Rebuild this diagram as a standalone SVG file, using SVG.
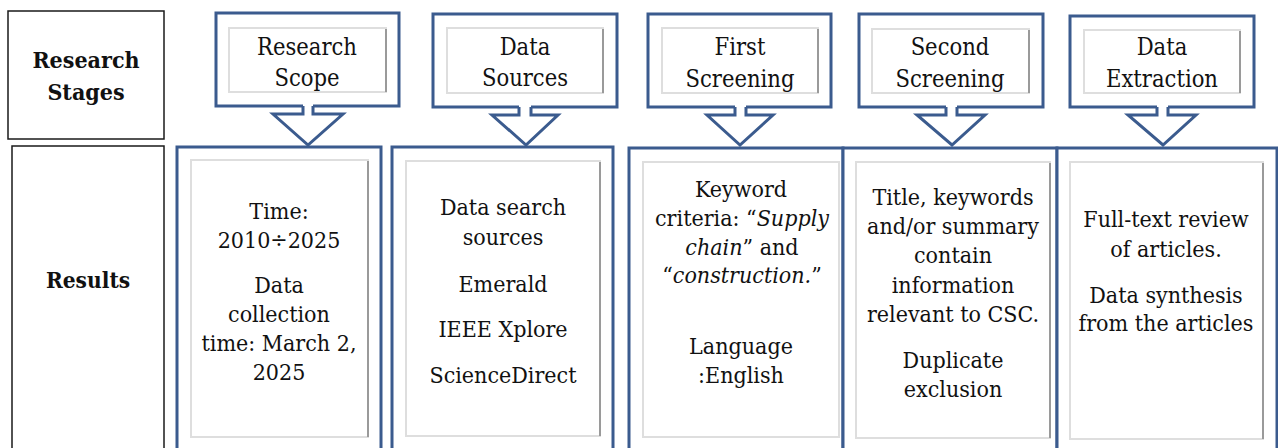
<svg xmlns="http://www.w3.org/2000/svg" width="1278" height="448" viewBox="0 0 1278 448">
<style>
.bg{fill:#fff}
.lbl{fill:#fff;stroke:#1a1a1a;stroke-width:1.5}
.blue{fill:none;stroke:#3b5b8e;stroke-width:3;stroke-linejoin:miter}
.bluebox{fill:#fff;stroke:#3b5b8e;stroke-width:3}
.inner{fill:#fff;stroke:#dedede;stroke-width:2}
.shadow{stroke:#9a9a9a;stroke-width:2;fill:none}
text{font-family:'DejaVu Serif Condensed','DejaVu Serif',serif;font-size:23px;fill:#111;text-anchor:middle}
.st{font-size:23.5px}
.b{font-weight:bold;font-size:23px}
.i{font-style:italic}
</style>
<rect class="bg" x="0" y="0" width="1278" height="448"/>

<g id="label-stages">
<rect class="lbl" x="8" y="11" width="156" height="128"/>
<text class="b" x="86" y="68">Research</text>
<text class="b" x="86" y="100">Stages</text>
</g>
<g id="label-results">
<rect class="lbl" x="12" y="146" width="152" height="320"/>
<text class="b" x="88" y="288" style="font-size:22.5px">Results</text>
</g>

<g id="stage-scope">
<path class="blue" d="M303,106 H216 V13 H399 V106 H313"/>
<rect class="inner" x="229" y="28" width="157" height="64"/>
<line class="shadow" x1="386" y1="29" x2="386" y2="92"/>
<text class="st" x="307" y="55">Research</text>
<text class="st" x="307" y="86">Scope</text>
</g>
<g id="stage-sources">
<path class="blue" d="M519,107 H433 V14 H617 V107 H531"/>
<rect class="inner" x="447" y="28" width="156" height="65"/>
<line class="shadow" x1="603" y1="29" x2="603" y2="93"/>
<text class="st" x="525" y="55">Data</text>
<text class="st" x="525" y="86">Sources</text>
</g>
<g id="stage-first">
<path class="blue" d="M735,107 H648 V14 H831 V107 H746"/>
<rect class="inner" x="662" y="28" width="156" height="65"/>
<line class="shadow" x1="818" y1="29" x2="818" y2="93"/>
<text class="st" x="740" y="55">First</text>
<text class="st" x="740" y="87">Screening</text>
</g>
<g id="stage-second">
<path class="blue" d="M946,107 H859 V14 H1043 V107 H957"/>
<rect class="inner" x="872" y="29" width="157" height="64"/>
<line class="shadow" x1="1029" y1="30" x2="1029" y2="93"/>
<text class="st" x="950" y="55">Second</text>
<text class="st" x="950" y="87">Screening</text>
</g>
<g id="stage-extraction">
<path class="blue" d="M1157,107 H1070 V16 H1254 V107 H1168"/>
<rect class="inner" x="1084" y="30" width="156" height="63"/>
<line class="shadow" x1="1240" y1="31" x2="1240" y2="93"/>
<text class="st" x="1162" y="55">Data</text>
<text class="st" x="1162" y="87">Extraction</text>
</g>

<g id="result-scope">
<rect class="bluebox" x="177" y="147" width="204" height="320"/>
<rect class="inner" x="191" y="160" width="177" height="277"/>
<line class="shadow" x1="368" y1="161" x2="368" y2="437"/>
<text x="279" y="219">Time:</text>
<text x="279" y="248">2010÷2025</text>
<text x="279" y="293">Data</text>
<text x="279" y="322">collection</text>
<text x="279" y="351">time: March 2,</text>
<text x="279" y="380">2025</text>
</g>
<g id="result-sources">
<rect class="bluebox" x="392" y="147" width="221" height="320"/>
<rect class="inner" x="406" y="161" width="194" height="275"/>
<line class="shadow" x1="600" y1="162" x2="600" y2="436"/>
<text x="503" y="215">Data search</text>
<text x="503" y="245">sources</text>
<text x="503" y="292">Emerald</text>
<text x="503" y="337">IEEE Xplore</text>
<text x="503" y="383">ScienceDirect</text>
</g>
<g id="result-first">
<rect class="bluebox" x="629" y="148" width="214" height="320"/>
<rect class="inner" x="643" y="162" width="196" height="275"/>
<text x="741" y="197">Keyword</text>
<text x="742" y="226">criteria: “<tspan class="i">Supply</tspan></text>
<text x="742" y="255"><tspan class="i">chain</tspan>” and</text>
<text x="742" y="283">“<tspan class="i">construction.</tspan>”</text>
<text x="741" y="354">Language</text>
<text x="741" y="383">:English</text>
</g>
<g id="result-second">
<rect class="bluebox" x="843" y="148" width="214" height="320"/>
<rect class="inner" x="856" y="162" width="194" height="276"/>
<line class="shadow" x1="1050" y1="163" x2="1050" y2="438"/>
<text x="953" y="205">Title, keywords</text>
<text x="953" y="234">and/or summary</text>
<text x="953" y="263">contain</text>
<text x="953" y="293">information</text>
<text x="953" y="322">relevant to CSC.</text>
<text x="953" y="368">Duplicate</text>
<text x="953" y="397">exclusion</text>
</g>
<g id="result-extraction">
<rect class="bluebox" x="1057" y="148" width="220" height="320"/>
<rect class="inner" x="1070" y="162" width="193" height="277"/>
<line class="shadow" x1="1263" y1="163" x2="1263" y2="439"/>
<text x="1166" y="227">Full-text review</text>
<text x="1166" y="257">of articles.</text>
<text x="1166" y="303">Data synthesis</text>
<text x="1166" y="331">from the articles</text>
</g>

<g id="connectors" class="blue">
<path fill="#fff" d="M303,106 V114 H273 L308,145 L343,114 H313 V106"/>
<path fill="#fff" d="M519,107 V115 H492 L526,145 L558,115 H531 V107"/>
<path fill="#fff" d="M735,107 V115 H707 L740,145 L773,115 H746 V107"/>
<path fill="#fff" d="M946,107 V115 H917 L952,145 L985,115 H957 V107"/>
<path fill="#fff" d="M1157,107 V115 H1128 L1163,145 L1196,115 H1168 V107"/>
</g>
</svg>
